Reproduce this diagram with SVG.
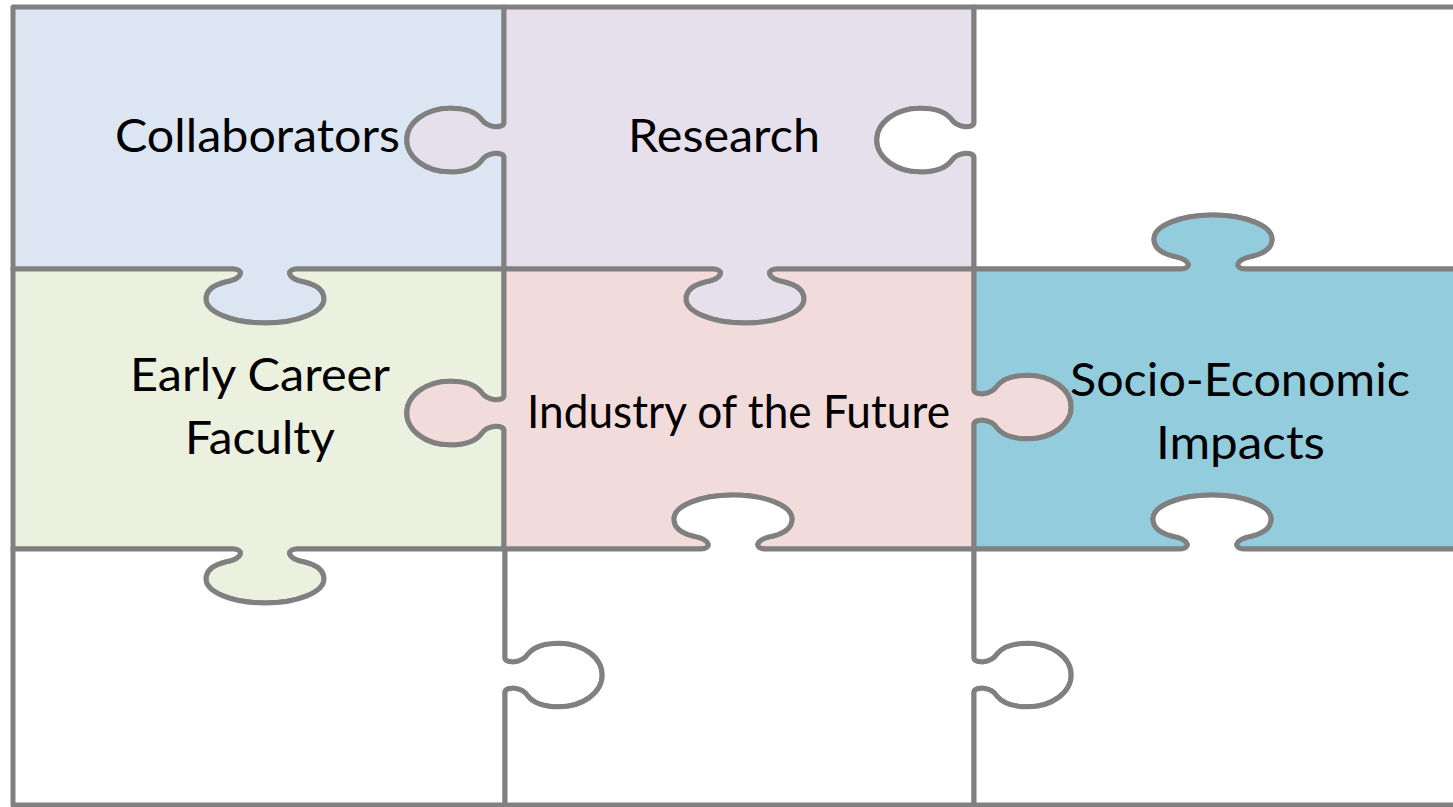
<svg xmlns="http://www.w3.org/2000/svg" width="1453" height="807" viewBox="0 0 1453 807">
  <style>
    .piece { stroke: #808080; stroke-width: 5; stroke-linejoin: round; }
    .label { font-family: "Lato", "Open Sans", "Liberation Sans", sans-serif; font-size: 46px; fill: #000000; }
  </style>
  <rect x="0" y="0" width="1453" height="807" fill="#ffffff"/>
  <!-- Puzzle pieces; each outline includes its tabs (outward knobs) and blanks (inward knobs) -->
  <g id="piece-collaborators">
    <path class="piece" fill="#DCE6F2" d="M13,7 H504 V122.72 c0,5.4 -16.2,6.48 -23.4,-4.32 c-5.4,-6.48 -16.2,-10.26 -30.6,-10.26 c-23.4,0 -43.2,14.04 -43.2,31.86 c0,17.82 19.8,31.86 43.2,31.86 c14.4,0 25.2,-3.78 30.6,-10.26 c7.2,-10.8 23.4,-9.72 23.4,-4.32 V269 H297 c-10,0 -12,9 8,13 c12,3 19,9 19,17 c0,13 -26,24 -59,24 c-33,0 -59,-11 -59,-24 c0,-8 7,-14 19,-17 c20,-4 18,-13 8,-13 H13 Z"/>
    <text class="label" x="115" y="152" textLength="285" lengthAdjust="spacingAndGlyphs">Collaborators</text>
  </g>
  <g id="piece-research">
    <path class="piece" fill="#E6E0EC" d="M504,7 H974 V122.72 c0,5.4 -16.2,6.48 -23.4,-4.32 c-5.4,-6.48 -16.2,-10.26 -30.6,-10.26 c-23.4,0 -43.2,14.04 -43.2,31.86 c0,17.82 19.8,31.86 43.2,31.86 c14.4,0 25.2,-3.78 30.6,-10.26 c7.2,-10.8 23.4,-9.72 23.4,-4.32 V269 H777 c-10,0 -12,9 8,13 c12,3 19,9 19,17 c0,13 -26,24 -59,24 c-33,0 -59,-11 -59,-24 c0,-8 7,-14 19,-17 c20,-4 18,-13 8,-13 H504 V157.28 c0,-5.4 -16.2,-6.48 -23.4,4.32 c-5.4,6.48 -16.2,10.26 -30.6,10.26 c-23.4,0 -43.2,-14.04 -43.2,-31.86 c0,-17.82 19.8,-31.86 43.2,-31.86 c14.4,0 25.2,3.78 30.6,10.26 c7.2,10.8 23.4,9.72 23.4,4.32 Z"/>
    <text class="label" x="628" y="152" textLength="192" lengthAdjust="spacingAndGlyphs">Research</text>
  </g>
  <g id="piece-top-right">
    <path class="piece" fill="#ffffff" d="M974,7 H1462 V269 H1245 c-10,0 -12,-9 8,-13 c12,-3 19,-9 19,-17 c0,-13 -26,-24 -59,-24 c-33,0 -59,11 -59,24 c0,8 7,14 19,17 c20,4 18,13 8,13 H974 V157.28 c0,-5.4 -16.2,-6.48 -23.4,4.32 c-5.4,6.48 -16.2,10.26 -30.6,10.26 c-23.4,0 -43.2,-14.04 -43.2,-31.86 c0,-17.82 19.8,-31.86 43.2,-31.86 c14.4,0 25.2,3.78 30.6,10.26 c7.2,10.8 23.4,9.72 23.4,4.32 Z"/>
  </g>
  <g id="piece-early-career">
    <path class="piece" fill="#EBF1DE" d="M13,269 H233 c10,0 12,9 -8,13 c-12,3 -19,9 -19,17 c0,13 26,24 59,24 c33,0 59,-11 59,-24 c0,-8 -7,-14 -19,-17 c-20,-4 -18,-13 -8,-13 H504 V395.72 c0,5.4 -16.2,6.48 -23.4,-4.32 c-5.4,-6.48 -16.2,-10.26 -30.6,-10.26 c-23.4,0 -43.2,14.04 -43.2,31.86 c0,17.82 19.8,31.86 43.2,31.86 c14.4,0 25.2,-3.78 30.6,-10.26 c7.2,-10.8 23.4,-9.72 23.4,-4.32 V549 H297 c-10,0 -12,9 8,13 c12,3 19,9 19,17 c0,13 -26,24 -59,24 c-33,0 -59,-11 -59,-24 c0,-8 7,-14 19,-17 c20,-4 18,-13 8,-13 H13 Z"/>
    <text class="label" x="130" y="391" textLength="260" lengthAdjust="spacingAndGlyphs">Early Career</text>
    <text class="label" x="185" y="454" textLength="150" lengthAdjust="spacingAndGlyphs">Faculty</text>
  </g>
  <g id="piece-industry">
    <path class="piece" fill="#F2DCDB" d="M504,269 H713 c10,0 12,9 -8,13 c-12,3 -19,9 -19,17 c0,13 26,24 59,24 c33,0 59,-11 59,-24 c0,-8 -7,-14 -19,-17 c-20,-4 -18,-13 -8,-13 H974 V389.72 c0,5.4 16.2,6.48 23.4,-4.32 c5.4,-6.48 16.2,-10.26 30.6,-10.26 c23.4,0 43.2,14.04 43.2,31.86 c0,17.82 -19.8,31.86 -43.2,31.86 c-14.4,0 -25.2,-3.78 -30.6,-10.26 c-7.2,-10.8 -23.4,-9.72 -23.4,-4.32 V549 H765 c-10,0 -12,-9 8,-13 c12,-3 19,-9 19,-17 c0,-13 -26,-24 -59,-24 c-33,0 -59,11 -59,24 c0,8 7,14 19,17 c20,4 18,13 8,13 H504 V430.28 c0,-5.4 -16.2,-6.48 -23.4,4.32 c-5.4,6.48 -16.2,10.26 -30.6,10.26 c-23.4,0 -43.2,-14.04 -43.2,-31.86 c0,-17.82 19.8,-31.86 43.2,-31.86 c14.4,0 25.2,3.78 30.6,10.26 c7.2,10.8 23.4,9.72 23.4,4.32 Z"/>
    <text class="label" x="527" y="428" textLength="423" lengthAdjust="spacingAndGlyphs">Industry of the Future</text>
  </g>
  <g id="piece-socio-economic">
    <path class="piece" fill="#93CDDD" d="M974,269 H1181 c10,0 12,-9 -8,-13 c-12,-3 -19,-9 -19,-17 c0,-13 26,-24 59,-24 c33,0 59,11 59,24 c0,8 -7,14 -19,17 c-20,4 -18,13 -8,13 H1462 V549 H1244 c-10,0 -12,-9 8,-13 c12,-3 19,-9 19,-17 c0,-13 -26,-24 -59,-24 c-33,0 -59,11 -59,24 c0,8 7,14 19,17 c20,4 18,13 8,13 H974 V424.28 c0,-5.4 16.2,-6.48 23.4,4.32 c5.4,6.48 16.2,10.26 30.6,10.26 c23.4,0 43.2,-14.04 43.2,-31.86 c0,-17.82 -19.8,-31.86 -43.2,-31.86 c-14.4,0 -25.2,3.78 -30.6,10.26 c-7.2,10.8 -23.4,9.72 -23.4,4.32 Z"/>
    <text class="label" x="1070" y="396" textLength="340" lengthAdjust="spacingAndGlyphs">Socio-Economic</text>
    <text class="label" x="1156" y="459" textLength="169" lengthAdjust="spacingAndGlyphs">Impacts</text>
  </g>
  <g id="piece-bottom-left">
    <path class="piece" fill="#ffffff" d="M13,549 H233 c10,0 12,9 -8,13 c-12,3 -19,9 -19,17 c0,13 26,24 59,24 c33,0 59,-11 59,-24 c0,-8 -7,-14 -19,-17 c-20,-4 -18,-13 -8,-13 H505 V657.72 c0,5.4 16.2,6.48 23.4,-4.32 c5.4,-6.48 16.2,-10.26 30.6,-10.26 c23.4,0 43.2,14.04 43.2,31.86 c0,17.82 -19.8,31.86 -43.2,31.86 c-14.4,0 -25.2,-3.78 -30.6,-10.26 c-7.2,-10.8 -23.4,-9.72 -23.4,-4.32 V805 H13 Z"/>
  </g>
  <g id="piece-bottom-middle">
    <path class="piece" fill="#ffffff" d="M504,549 H701 c10,0 12,-9 -8,-13 c-12,-3 -19,-9 -19,-17 c0,-13 26,-24 59,-24 c33,0 59,11 59,24 c0,8 -7,14 -19,17 c-20,4 -18,13 -8,13 H974 V657.72 c0,5.4 16.2,6.48 23.4,-4.32 c5.4,-6.48 16.2,-10.26 30.6,-10.26 c23.4,0 43.2,14.04 43.2,31.86 c0,17.82 -19.8,31.86 -43.2,31.86 c-14.4,0 -25.2,-3.78 -30.6,-10.26 c-7.2,-10.8 -23.4,-9.72 -23.4,-4.32 V805 H505 V692.28 c0,-5.4 16.2,-6.48 23.4,4.32 c5.4,6.48 16.2,10.26 30.6,10.26 c23.4,0 43.2,-14.04 43.2,-31.86 c0,-17.82 -19.8,-31.86 -43.2,-31.86 c-14.4,0 -25.2,3.78 -30.6,10.26 c-7.2,10.8 -23.4,9.72 -23.4,4.32 V549 Z"/>
  </g>
  <g id="piece-bottom-right">
    <path class="piece" fill="#ffffff" d="M974,549 H1180 c10,0 12,-9 -8,-13 c-12,-3 -19,-9 -19,-17 c0,-13 26,-24 59,-24 c33,0 59,11 59,24 c0,8 -7,14 -19,17 c-20,4 -18,13 -8,13 H1462 V805 H974 V692.28 c0,-5.4 16.2,-6.48 23.4,4.32 c5.4,6.48 16.2,10.26 30.6,10.26 c23.4,0 43.2,-14.04 43.2,-31.86 c0,-17.82 -19.8,-31.86 -43.2,-31.86 c-14.4,0 -25.2,3.78 -30.6,10.26 c-7.2,10.8 -23.4,9.72 -23.4,4.32 Z"/>
  </g>
  <g id="connectors"/>
</svg>
